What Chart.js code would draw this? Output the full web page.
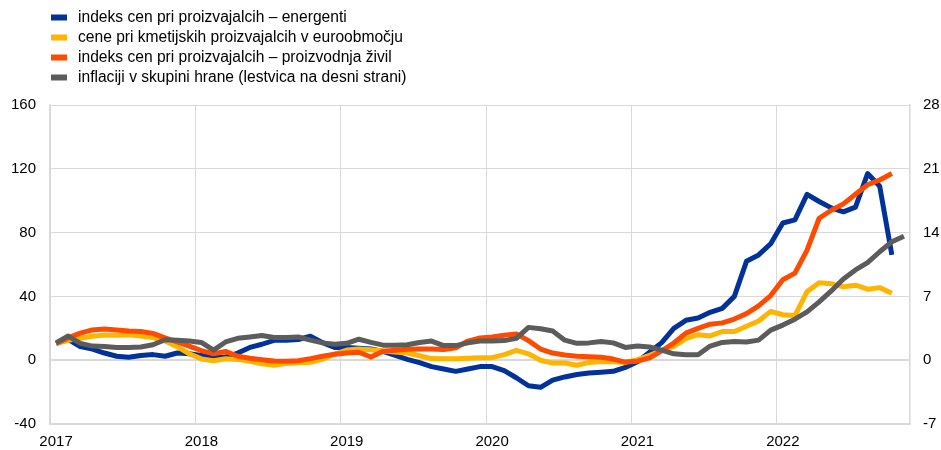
<!DOCTYPE html>
<html>
<head>
<meta charset="utf-8">
<script src="https://cdn.jsdelivr.net/npm/chart.js@4.4.1/dist/chart.umd.min.js"></script>
<style>
  html, body { margin: 0; padding: 0; background: #fff; }
  #wrap { position: relative; width: 941px; height: 450px; }
</style>
</head>
<body>
<div id="wrap"><canvas id="c"></canvas></div>
<script>
// Monthly observations, Jan 2017 – Nov 2022
const years = ['2017', '2018', '2019', '2020', '2021', '2022'];
const months = [];
years.forEach(y => { for (let m = 1; m <= 12; m++) months.push(y + '-' + String(m).padStart(2, '0')); });
months.length = 71; // up to Nov 2022

const seriesNames = [
  'indeks cen pri proizvajalcih – energenti',
  'cene pri kmetijskih proizvajalcih v euroobmočju',
  'indeks cen pri proizvajalcih – proizvodnja živil',
  'inflaciji v skupini hrane (lestvica na desni strani)'
];

const energyPPI = [
  10.5, 13, 8.5, 7, 4.5, 2.5, 1.8, 3, 3.5, 2.5, 4.5, 4,
  3, 1.5, 2, 4.5, 8, 10, 12.5, 12.5, 13, 15, 11, 8,
  8, 7.5, 7, 5.5, 3, 0.5, -1.5, -4, -5.5, -7, -5.5, -4,
  -4, -6.5, -11, -16, -17, -12.5, -10.5, -9, -8, -7.5, -7, -4.5,
  -1, 5, 11, 20, 25, 26.5, 30, 32.5, 40, 62, 66, 73,
  86, 88, 104, 99.5, 95.5, 93, 96, 117, 109, 66, null
];

const agriPrices = [
  10.5, 12.5, 13.8, 15, 15.8, 15.7, 16, 15.2, 14.2, 12, 8.5, 4,
  0.8, -0.3, 0.9, 0.5, -0.7, -2.3, -3.2, -2, -1.6, -1.3, 0.7, 3.8,
  6.4, 7, 6.6, 5.8, 5.2, 4.5, 2.8, 1, 0.9, 0.9, 1.2, 1.6,
  1.6, 3.5, 6.2, 4, 0, -1.8, -1.8, -3.2, -1.4, -0.8, -0.9, -1.4,
  0.4, 3, 6, 8.6, 13.5, 16, 15.2, 18, 18, 21.3, 24.6, 30.6,
  28.5, 28, 43, 48.5, 48, 46, 47, 44.5, 45.5, 42, null
];

const foodPPI = [
  10.5, 14, 17, 19, 19.6, 19, 18.3, 18, 16.8, 14, 11.5, 8.8,
  6, 4, 5.5, 2.5, 1.2, 0.3, -0.5, -0.6, -0.3, 1, 2.5, 3.8,
  4.5, 5, 2, 5.6, 6.3, 6.8, 7, 7, 6.7, 7.8, 12, 14,
  14.5, 15.6, 16.5, 12.3, 7, 4.5, 3.3, 2.5, 2.2, 1.8, 0.7, -1.2,
  -0.6, 1.5, 5.8, 10.8, 17, 20, 22.6, 23.4, 25.8, 29.2, 34, 40.5,
  50.4, 54.6, 69, 89, 94, 98, 104, 110, 113, 117, null
];

const foodInflation = [
  1.9, 2.65, 1.85, 1.55, 1.5, 1.4, 1.4, 1.45, 1.7, 2.25, 2.2, 2.1,
  1.95, 1.1, 2.0, 2.4, 2.55, 2.7, 2.5, 2.5, 2.55, 2.2, 1.9, 1.75,
  1.85, 2.3, 1.95, 1.65, 1.65, 1.7, 1.95, 2.1, 1.6, 1.6, 1.9, 2.1,
  2.1, 2.15, 2.4, 3.6, 3.45, 3.2, 2.2, 1.85, 1.9, 2.05, 1.9, 1.4,
  1.55, 1.45, 1.1, 0.7, 0.6, 0.6, 1.55, 1.95, 2.05, 2.0, 2.2, 3.3,
  3.85, 4.5, 5.3, 6.4, 7.6, 8.9, 9.9, 10.7, 11.9, 13.0, 13.6
];

const colors = ['#003299', '#FFB400', '#FF4B00', '#5C5C5C'];
const FONT = '"Liberation Sans", Arial, sans-serif';
const GRID = '#d9d9d9';

const legendPlugin = {
  id: 'vlegend',
  afterDraw(chart) {
    const ctx = chart.ctx;
    ctx.save();
    ctx.font = '15.6px ' + FONT;
    ctx.textBaseline = 'middle';
    seriesNames.forEach((name, i) => {
      const y = 17.5 + i * 20;
      ctx.fillStyle = colors[i];
      ctx.fillRect(51, y - 3, 16, 6);
      ctx.fillStyle = '#000';
      ctx.fillText(name, 78, y);
    });
    ctx.restore();
  }
};

const lineDs = (label, data, color, axis, order) => ({
  label, data, borderColor: color, backgroundColor: color,
  borderWidth: 5, pointRadius: 0, tension: 0,
  borderJoinStyle: 'round', borderCapStyle: 'butt',
  yAxisID: axis, order
});

new Chart(document.getElementById('c'), {
  type: 'line',
  data: {
    labels: months,
    datasets: [
      lineDs(seriesNames[0], energyPPI, colors[0], 'y', 3),
      lineDs(seriesNames[1], agriPrices, colors[1], 'y', 2),
      lineDs(seriesNames[2], foodPPI, colors[2], 'y', 1),
      lineDs(seriesNames[3], foodInflation, colors[3], 'y1', 0)
    ]
  },
  options: {
    responsive: true,
    maintainAspectRatio: false,
    animation: false,
    layout: { padding: { top: 105, left: 0, right: 0, bottom: 0 } },
    plugins: { legend: { display: false }, tooltip: { enabled: false } },
    scales: {
      x: {
        type: 'category',
        offset: true,
        grid: {
          offset: true,
          drawTicks: false,
          color: c => (c.index !== undefined && c.index % 12 === 0) ? GRID : 'rgba(0,0,0,0)',
          lineWidth: 1
        },
        border: { display: true, color: GRID, width: 1.5 },
        ticks: {
          autoSkip: false, maxRotation: 0, minRotation: 0,
          padding: 9, color: '#000', font: { family: FONT, size: 15 },
          callback: (v, i) => (i % 12 === 0) ? years[i / 12] : ''
        },
        afterFit: s => { s.height = 26; }
      },
      y: {
        position: 'left',
        min: -40, max: 160,
        ticks: { stepSize: 40, padding: 14, color: '#000', font: { family: FONT, size: 15 } },
        grid: {
          drawTicks: false, color: GRID,
          lineWidth: c => (c.tick && c.tick.value === 0) ? 2 : 1
        },
        border: { display: true, color: GRID, width: 1.5 },
        afterFit: s => { s.width = 50; }
      },
      y1: {
        position: 'right',
        min: -7, max: 28,
        ticks: { stepSize: 7, padding: 13, color: '#000', font: { family: FONT, size: 15 } },
        grid: { drawOnChartArea: false, drawTicks: false },
        border: { display: true, color: GRID, width: 1.5 },
        afterFit: s => { s.width = 31; }
      }
    }
  },
  plugins: [legendPlugin]
});
</script>
</body>
</html>
